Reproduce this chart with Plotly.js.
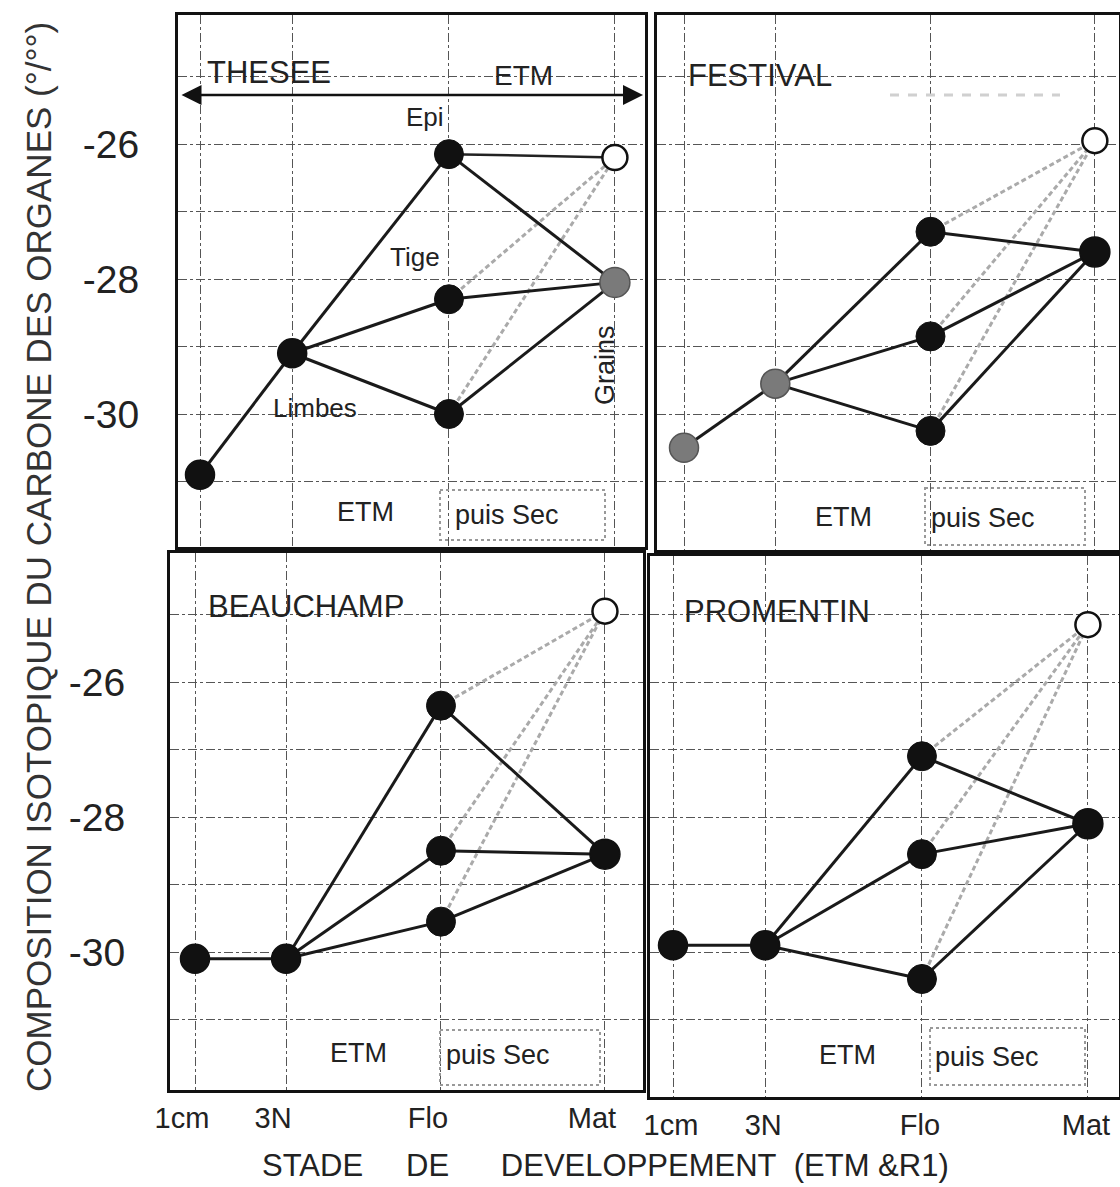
<!DOCTYPE html>
<html>
<head>
<meta charset="utf-8">
<script src="https://cdn.plot.ly/plotly-3.0.1.min.js"></script>
<style>html,body{margin:0;padding:0;background:#fff;}#chart{width:1120px;height:1187px;}</style>
</head>
<body>
<div id="chart"></div>
<script>
// ---------------- DATA ----------------
const stages = ['1cm', '3N', 'Flo', 'Mat'];
const stageX = [0, 1, 2.7, 4.5];            // position of each development stage on the time axis
const cultivars = ['THESEE', 'FESTIVAL', 'BEAUCHAMP', 'PROMENTIN'];
// delta 13C (per mille), one value per cultivar
const limbes1cm   = [-30.9, -30.5, -30.1, -29.9];
const limbes3N    = [-29.1, -29.55, -30.1, -29.9];
const epiFlo      = [-26.15, -27.3, -26.35, -27.1];
const tigeFlo     = [-28.3, -28.85, -28.5, -28.55];
const limbesFlo   = [-30.0, -30.25, -29.55, -30.4];
const grainsETM   = [-28.05, -27.6, -28.55, -28.1];   // Mat, ETM
const grainsSec   = [-26.2, -25.95, -24.95, -25.15];  // Mat, ETM puis Sec
const yTickVals   = [-31, -30, -29, -28, -27, -26, -25];
const yTickText   = ['', '-30', '', '-28', '', '-26', ''];
const organLabels = ['Epi', 'Tige', 'Limbes', 'Grains'];

// ---------------- LAYOUT GEOMETRY ----------------
const W = 1120, H = 1187, PXU = 67.5;
const panels = [
  {L:178, R:645, T:15,  B:547,  yRef:144, x0:200, u:92.2, shift:0},
  {L:657, R:1119,T:15,  B:550,  yRef:144, x0:684, u:91.3, shift:0},
  {L:170, R:643, T:553, B:1090, yRef:682, x0:195, u:91.1, shift:-13},
  {L:650, R:1119,T:556, B:1097, yRef:682, x0:673, u:92.2, shift:-2}
];
const px = v => v / W;
const py = v => 1 - v / H;
const FONT = 'Liberation Sans, Arial, sans-serif';
const TXT = '#222';

const traces = [];
const layout = {
  width: W, height: H,
  margin: {l:0, r:0, t:0, b:0},
  paper_bgcolor: '#fff', plot_bgcolor: '#fff',
  showlegend: false,
  font: {family: FONT, color: TXT},
  annotations: [], shapes: []
};

panels.forEach((P, i) => {
  const n = i + 1;
  const xa = n === 1 ? 'xaxis' : 'xaxis' + n;
  const ya = n === 1 ? 'yaxis' : 'yaxis' + n;
  const xr = n === 1 ? 'x' : 'x' + n;
  const yr = n === 1 ? 'y' : 'y' + n;
  layout[xa] = {
    domain: [px(P.L), px(P.R)],
    range: [(P.L - P.x0) / P.u, (P.R - P.x0) / P.u],
    anchor: yr, tickvals: stageX, ticktext: stages,
    showticklabels: i >= 2, ticks: '', ticklabelshift: P.shift,
    tickfont: {size: 29, color: TXT, family: FONT},
    showgrid: true, gridcolor: '#555', gridwidth: 1, griddash: 'dashdot',
    zeroline: false, showline: true, mirror: true, linecolor: '#111', linewidth: 3,
    fixedrange: true
  };
  layout[ya] = {
    domain: [py(P.B), py(P.T)],
    range: [-26 - (P.B - P.yRef) / PXU, -26 + (P.yRef - P.T) / PXU],
    anchor: xr, tickvals: yTickVals, ticktext: yTickText,
    showticklabels: i % 2 === 0, ticks: '',
    ticklabelstandoff: i === 0 ? 28 : 34,
    tickfont: {size: 39, color: TXT, family: FONT},
    showgrid: true, gridcolor: '#555', gridwidth: 1, griddash: 'dashdot',
    zeroline: false, showline: true, mirror: true, linecolor: '#111', linewidth: 3,
    fixedrange: true
  };

  const xs = stageX;
  const floVals = [epiFlo[i], tigeFlo[i], limbesFlo[i]];
  // solid black connections
  const sx = [xs[0], xs[1], null];
  const sy = [limbes1cm[i], limbes3N[i], null];
  floVals.forEach(v => { sx.push(xs[1], xs[2], null); sy.push(limbes3N[i], v, null); });
  floVals.forEach(v => { sx.push(xs[2], xs[3], null); sy.push(v, grainsETM[i], null); });
  // dashed grey connections to the "ETM puis Sec" grains
  const dx = [], dy = [];
  floVals.forEach((v, k) => {
    if (i === 0 && k === 0) return;
    dx.push(xs[2], xs[3], null); dy.push(v, grainsSec[i], null);
  });
  traces.push({x: dx, y: dy, xaxis: xr, yaxis: yr, mode: 'lines', type: 'scatter',
    line: {color: '#aaaaaa', width: 3, dash: '5px,3px'}, hoverinfo: 'skip'});
  traces.push({x: sx, y: sy, xaxis: xr, yaxis: yr, mode: 'lines', type: 'scatter',
    line: {color: '#1a1a1a', width: 3}, hoverinfo: 'skip'});
  if (i === 0) {
    traces.push({x: [xs[2], xs[3]], y: [epiFlo[i], grainsSec[i]], xaxis: xr, yaxis: yr,
      mode: 'lines', type: 'scatter', line: {color: '#222', width: 2.5}, hoverinfo: 'skip'});
  }
  // markers
  const earlyGrey = (i === 1);
  const matGrey = (i === 0);
  traces.push({x: [xs[0], xs[1]], y: [limbes1cm[i], limbes3N[i]], xaxis: xr, yaxis: yr,
    mode: 'markers', type: 'scatter',
    marker: {size: 29, color: earlyGrey ? '#7a7a7a' : '#111', line: {color: earlyGrey ? '#555' : '#111', width: 1.5}}});
  traces.push({x: [xs[2], xs[2], xs[2]], y: floVals, xaxis: xr, yaxis: yr,
    mode: 'markers', type: 'scatter',
    marker: {size: 29, color: '#111', line: {color: '#111', width: 1}}});
  traces.push({x: [xs[3]], y: [grainsETM[i]], xaxis: xr, yaxis: yr,
    mode: 'markers', type: 'scatter',
    marker: {size: 30, color: matGrey ? '#7a7a7a' : '#111', line: {color: matGrey ? '#555' : '#111', width: 1.5}}});
  traces.push({x: [xs[3]], y: [grainsSec[i]], xaxis: xr, yaxis: yr,
    mode: 'markers', type: 'scatter',
    marker: {size: 25, color: '#fff', line: {color: '#111', width: 2.5}}});
});

// ---------------- ANNOTATIONS ----------------
function txt(t, x, y, size, opt) {
  layout.annotations.push(Object.assign({
    text: t, x: px(x), y: py(y), xref: 'paper', yref: 'paper', showarrow: false,
    xanchor: 'center', yanchor: 'middle', font: {size: size, color: TXT, family: FONT}
  }, opt || {}));
}
// cultivar names
txt(cultivars[0], 205, 72, 31, {xanchor: 'left'});
txt(cultivars[1], 686, 75, 31, {xanchor: 'left'});
txt(cultivars[2], 206, 607, 31, {xanchor: 'left'});
txt(cultivars[3], 682, 612, 31, {xanchor: 'left'});
// THESEE organ labels
txt(organLabels[0], 425, 117, 26);
txt(organLabels[1], 415, 257, 26);
txt(organLabels[2], 315, 408, 26);
txt(organLabels[3], 605, 365, 27, {textangle: -90});
// ETM arrow
txt('ETM', 523, 75, 28);
layout.annotations.push({text: '', xref: 'paper', yref: 'paper', axref: 'paper', ayref: 'paper',
  x: px(643), y: py(95), ax: px(180), ay: py(95), showarrow: true,
  arrowhead: 2, arrowside: 'end+start', arrowsize: 1.6, arrowwidth: 2.5, arrowcolor: '#111'});
// ETM / puis Sec treatment labels
const treat = [[365, 512, 507, 515], [843, 517, 983, 518], [358, 1053, 498, 1055], [847, 1055, 987, 1057]];
const boxes = [[440, 490, 605, 540], [925, 488, 1085, 545], [440, 1030, 600, 1085], [930, 1028, 1085, 1085]];
treat.forEach(t => { txt('ETM', t[0], t[1], 27); txt('puis Sec', t[2], t[3], 27); });
boxes.forEach(b => layout.shapes.push({type: 'rect', xref: 'paper', yref: 'paper',
  x0: px(b[0]), y0: py(b[1]), x1: px(b[2]), y1: py(b[3]),
  line: {color: '#999', width: 2, dash: 'dot'}}));
// faint ghost line in FESTIVAL panel
layout.shapes.push({type: 'line', xref: 'paper', yref: 'paper', x0: px(890), x1: px(1060), y0: py(95), y1: py(95),
  line: {color: '#d0d0d0', width: 3, dash: 'dash'}});
// axis titles
txt('COMPOSITION ISOTOPIQUE DU CARBONE DES ORGANES (°/°°)', 38, 557, 35, {textangle: -90, font: {size: 35, color: '#333', family: FONT}});
const nb = k => '\u00a0'.repeat(k);
txt('STADE' + nb(5) + 'DE' + nb(6) + 'DEVELOPPEMENT' + nb(2) + '(ETM &R1)', 605, 1165, 31);

Plotly.newPlot('chart', traces, layout, {staticPlot: true, displayModeBar: false});
</script>
</body>
</html>
